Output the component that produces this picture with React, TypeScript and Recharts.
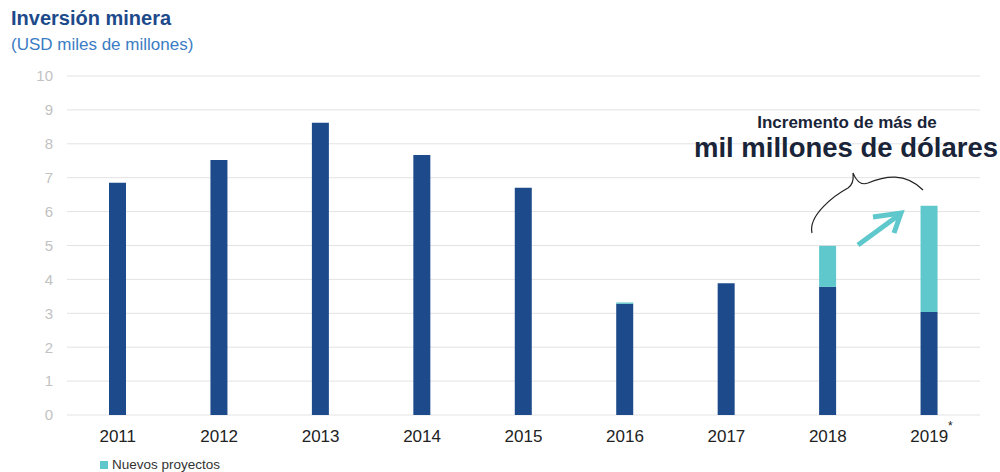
import { BarChart, Bar, XAxis, YAxis, CartesianGrid, Legend } from 'recharts';

const years = ['2011', '2012', '2013', '2014', '2015', '2016', '2017', '2018', '2019'];
const inversion = [6.85, 7.52, 8.62, 7.67, 6.7, 3.28, 3.89, 3.78, 3.04];
const nuevos = [0, 0, 0, 0, 0, 0.04, 0, 1.21, 3.13];
const yTicks = [0, 1, 2, 3, 4, 5, 6, 7, 8, 9, 10];

const data = years.map((year, i) => ({ year, inversion: inversion[i], nuevos: nuevos[i] }));

const DARK = '#1d4a8a';
const CYAN = '#5ec8cc';
const FONT = '"Liberation Sans", Arial, sans-serif';

export default function App() {
  return (
    <div style={{ position: 'absolute', left: 0, top: 0, width: 1000, height: 472, background: '#fff', fontFamily: FONT }}>
      <BarChart width={1000} height={472} data={data} margin={{ top: 76, right: 20, left: 0, bottom: 12 }}>
        <CartesianGrid horizontal vertical={false} stroke="#e3e3e3" />
        <XAxis
          dataKey="year"
          axisLine={false}
          tickLine={false}
          tickSize={0}
          tickMargin={15}
          height={30}
          tick={{ fontSize: 17, fill: '#222', fontFamily: FONT }}
        />
        <YAxis
          domain={[0, 10]}
          ticks={yTicks}
          width={67}
          axisLine={false}
          tickLine={false}
          tickSize={0}
          tickMargin={14}
          tick={{ fontSize: 15, fill: '#c2c2c2', fontFamily: FONT }}
        />
        <Legend
          verticalAlign="bottom"
          align="left"
          iconType="square"
          iconSize={8}
          wrapperStyle={{ left: 100, bottom: 0, fontSize: 13.5, fontFamily: FONT, color: '#333' }}
          formatter={(v) => <span style={{ color: '#333' }}>{v}</span>}
        />
        <Bar dataKey="inversion" stackId="a" fill={DARK} barSize={17} legendType="none" isAnimationActive={false} />
        <Bar dataKey="nuevos" name="Nuevos proyectos" stackId="a" fill={CYAN} barSize={17} isAnimationActive={false} />
      </BarChart>
      <svg width={1000} height={472} style={{ position: 'absolute', left: 0, top: 0, pointerEvents: 'none' }}>
        <text x={11} y={25} fontSize={20} fontWeight="bold" fill="#1d4a8a" fontFamily={FONT}>
          Inversión minera
        </text>
        <text x={11} y={50} fontSize={17} fill="#3b7cc4" fontFamily={FONT}>
          (USD miles de millones)
        </text>
        <text x={847} y={128} fontSize={17} fontWeight="bold" fill="#1a2438" textAnchor="middle" fontFamily={FONT}>
          Incremento de más de
        </text>
        <text x={846} y={157} fontSize={27.5} fontWeight="bold" fill="#1a2438" textAnchor="middle" fontFamily={FONT}>
          mil millones de dólares
        </text>
        <path
          d="M812 233 C 808 215, 835 195, 848 188 C 855 183, 853 176, 853 173 C 856 180, 860 186, 868 183 C 885 176, 905 172, 923 190"
          fill="none"
          stroke="#222"
          strokeWidth={1.2}
        />
        <g stroke={CYAN} strokeWidth={5} strokeLinecap="butt" fill="none">
          <line x1={858} y1={245} x2={899} y2={215} />
          <polyline points="873,217 901,213 894,233" />
        </g>
        <text x={948} y={430} fontSize={12} fill="#222" fontFamily={FONT}>*</text>
      </svg>
    </div>
  );
}
